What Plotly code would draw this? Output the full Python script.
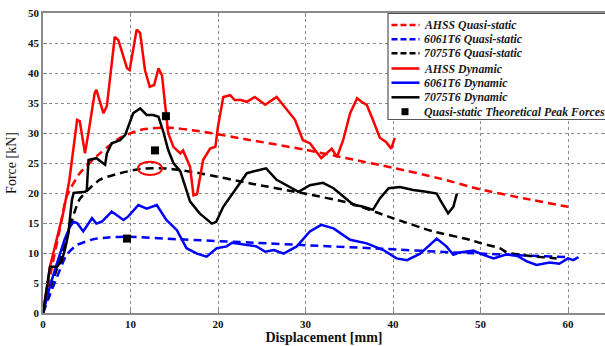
import plotly.graph_objects as go

# ---- quasi-static curves (force in kN vs displacement in mm) ----
ahss_qs_x = [0, 1, 2, 2.7, 4.2, 6.5, 8.8, 11.1, 14.1, 17.9, 23, 30, 35, 40, 45.4, 50, 55, 60]
ahss_qs_y = [0, 7.5, 14.5, 19.4, 23.3, 26.6, 29.2, 30.5, 30.9, 30.3, 29.0, 27.2, 25.7, 24.2, 22.4, 20.6, 19.1, 17.7]

al6061_qs_x = [0, 1, 1.6, 2.7, 3.85, 5.75, 7.5, 9.75, 15.3, 24.4, 30, 38.9, 45.4, 50, 55, 60]
al6061_qs_y = [0, 3.8, 6.0, 9.7, 11.3, 12.3, 12.6, 12.7, 12.3, 11.7, 11.3, 10.7, 10.2, 9.9, 9.6, 9.3]

al7075_qs_x = [0, 1, 2, 3, 4.2, 6.5, 8.8, 11.1, 14.1, 17.9, 23.7, 29.9, 35.1, 40, 44.6, 48.8, 50.1, 52.2, 53, 55.7, 58.7]
al7075_qs_y = [0, 4.8, 9.2, 14.0, 19.0, 22.2, 23.3, 24.0, 24.1, 23.3, 21.6, 19.9, 18.3, 15.8, 13.6, 12.2, 11.6, 10.8, 10.1, 9.5, 9.1]

# ---- dynamic curves ----
ahss_dyn_x = [0, 0.8, 1.6, 2.3, 3.0, 3.65, 3.9, 4.2, 4.8, 5.3, 5.9, 6.1, 6.9, 7.3, 8.2, 8.6, 9.6, 9.9, 10.7, 11.1, 11.65, 12.2, 12.7,
              13.2, 13.6, 13.9, 14.3, 14.9, 15.7, 16.0, 16.8, 17.2, 17.6, 18.3, 19.1, 19.7, 20.0, 20.6, 21.4, 21.9, 22.6, 23.3,
              24.2, 25.4, 26.7, 28.2, 28.8, 29.7, 30.5, 31.8, 33.0, 33.6, 34.3, 35.1, 35.9, 36.4, 37.0, 37.7, 38.5, 39.2,
              39.8, 40.2]
ahss_dyn_y = [0, 7.7, 12.5, 16.6, 22.0, 30.0, 32.2, 32.0, 26.6, 31.0, 36.6, 37.2, 33.3, 34.5, 46.0, 45.5, 40.8, 40.5, 47.2, 46.7,
              40.5, 37.7, 38.0, 40.8, 39.6, 35.5, 30.0, 27.7, 26.6, 27.1, 24.4, 19.6, 19.8, 25.5, 27.4, 27.7, 31.1, 36.0, 36.3,
              35.5, 35.5, 35.2, 36.0, 34.7, 36.0, 33.3, 32.2, 28.8, 28.3, 25.8, 27.4, 26.0, 28.8, 33.3, 35.8, 35.2, 34.7, 32.2,
              29.2, 28.5, 27.4, 29.2]

al6061_dyn_x = [0, 0.8, 1.6, 2.5, 3.1, 3.5, 3.9, 4.6, 5.6, 6.1, 6.7, 7.85, 9.2, 9.75, 10.9, 11.85, 13.0, 14.1, 15.3, 16.4, 17.6,
                18.7, 19.85, 21.0, 21.6, 23.3, 24.4, 25.4, 26.4, 27.5, 29.0, 30.5, 31.8, 33.2, 35.1, 37.0, 38.9, 40.4, 41.6,
                43.1, 45.0, 46.1, 46.9, 47.6, 49.2, 50.1, 51.5, 53.0, 54.2, 55.3, 56.4, 57.9, 59.0, 60.0, 60.6, 61.2]
al6061_dyn_y = [0, 4.5, 8.3, 12.4, 14.4, 15.2, 15.0, 13.6, 15.8, 14.9, 15.2, 16.9, 15.5, 16.1, 18.0, 17.4, 18.0, 15.5, 13.8, 10.8,
                9.9, 9.4, 10.8, 11.1, 11.7, 11.3, 11.1, 10.2, 10.5, 9.9, 11.1, 13.6, 14.7, 14.1, 12.2, 11.6, 10.5, 9.1, 8.8,
                9.9, 12.4, 11.1, 9.7, 10.1, 10.4, 9.8, 9.1, 9.8, 9.5, 8.6, 8.0, 8.4, 8.2, 9.1, 8.8, 9.3]

al7075_dyn_x = [0, 0.8, 1.6, 2.1, 2.5, 2.9, 3.3, 3.5, 4.8, 5.0, 5.2, 6.1, 7.1, 7.3, 7.85, 8.8, 9.4, 9.75, 10.3, 11.1, 11.85,
                12.6, 13.2, 13.75, 14.3, 14.9, 15.7, 16.8, 17.9, 19.3, 19.8, 20.6, 22.3, 23.3, 24.6, 25.5, 26.7, 27.8, 29.2,
                30.5, 32.0, 33.2, 34.3, 35.5, 36.4, 37.7, 38.5, 39.5, 40.8, 42.3, 43.8, 45.0, 45.4, 46.3, 46.9, 47.3]
al7075_dyn_y = [0, 7.7, 7.7, 8.6, 10.5, 13.3, 18.8, 20.0, 20.2, 20.4, 25.5, 25.8, 24.7, 26.6, 28.3, 28.8, 29.7, 31.1, 33.3, 34.1,
                33.0, 33.0, 32.7, 30.2, 27.2, 25.0, 23.6, 18.6, 16.6, 14.9, 15.2, 17.7, 21.3, 23.3, 23.8, 24.1, 22.2, 21.3, 20.2,
                21.3, 21.7, 20.8, 19.4, 18.0, 17.8, 17.2, 19.1, 20.8, 21.0, 20.5, 20.2, 19.9, 18.8, 16.6, 17.7, 19.9]

# theoretical quasi-static peak forces
peak_x = [9.6, 12.8, 14.05]
peak_y = [12.4, 27.1, 32.8]

legend_labels = [
    "AHSS Quasi-static",
    "6061T6 Quasi-static",
    "7075T6 Quasi-static",
    "AHSS Dynamic",
    "6061T6 Dynamic",
    "7075T6 Dynamic",
    "Quasi-static Theoretical Peak Forces",
]

x_ticks = [0, 10, 20, 30, 40, 50, 60]
y_ticks = [0, 5, 10, 15, 20, 25, 30, 35, 40, 45, 50]

RED, BLUE, BLACK = "#ff0000", "#0000ff", "#000000"
SERIF = "Liberation Serif, Times New Roman, serif"
LW = 2.5
DASH = "8px,5px"

series = [
    (ahss_qs_x, ahss_qs_y, RED, DASH, "spline"),
    (al6061_qs_x, al6061_qs_y, BLUE, DASH, "spline"),
    (al7075_qs_x, al7075_qs_y, BLACK, DASH, "spline"),
    (ahss_dyn_x, ahss_dyn_y, RED, "solid", "linear"),
    (al6061_dyn_x, al6061_dyn_y, BLUE, "solid", "linear"),
    (al7075_dyn_x, al7075_dyn_y, BLACK, "solid", "linear"),
]

fig = go.Figure()
for (xs, ys, col, dash, shape), name in zip(series, legend_labels):
    fig.add_trace(go.Scatter(x=xs, y=ys, mode="lines", name=name, showlegend=False,
                             line=dict(color=col, width=LW, dash=dash, shape=shape, smoothing=0.6)))

fig.add_trace(go.Scatter(x=peak_x, y=peak_y, mode="markers", name=legend_labels[-1], showlegend=False,
                         marker=dict(symbol="square", size=8, color=BLACK)))

# plot area geometry in pixels
W, H = 605, 346
ML, MT, MB, MR = 43, 13, 33, 0
PW, PH = W - ML - MR, H - MT - MB


def fx(px):
    return (px - ML) / PW


def fy(py):
    return (MT + PH - py) / PH


shapes = []
# highlighted 7075T6 quasi-static peak
shapes.append(dict(type="circle", xref="x", yref="y", x0=10.85, x1=13.6, y0=23.0, y1=25.2,
                   line=dict(color=RED, width=2)))

# legend box
shapes.append(dict(type="rect", xref="paper", yref="paper", x0=fx(388), x1=fx(620), y0=fy(119.5), y1=fy(13.5),
                   fillcolor="white", line=dict(color="#555555", width=1.2), layer="above"))

entry_y = [25, 39.3, 53.3, 68.5, 82.7, 97.3, 111.7]
entry_style = [(RED, "dash"), (BLUE, "dash"), (BLACK, "dash"), (RED, "solid"), (BLUE, "solid"), (BLACK, "solid")]
annotations = []
for i, label in enumerate(legend_labels):
    yy = fy(entry_y[i])
    if i < len(entry_style):
        col, dsh = entry_style[i]
        shapes.append(dict(type="line", xref="paper", yref="paper", x0=fx(391.5), x1=fx(419.5), y0=yy, y1=yy,
                           line=dict(color=col, width=LW, dash="6px,3px" if dsh == "dash" else "solid"),
                           layer="above"))
    else:
        shapes.append(dict(type="rect", xref="paper", yref="paper", x0=fx(401.5), x1=fx(408.5),
                           y0=fy(entry_y[i] + 3.5), y1=fy(entry_y[i] - 3.5),
                           fillcolor=BLACK, line=dict(width=0), layer="above"))
    annotations.append(dict(xref="paper", yref="paper", x=fx(421.5), y=yy, xanchor="left", yanchor="middle",
                            text=f"<b><i>{label}</i></b>", showarrow=False,
                            font=dict(family=SERIF, size=11.8, color="#1a1a1a")))

axis_common = dict(showgrid=True, gridcolor="#8c8c8c", griddash="dot", gridwidth=1,
                   showline=True, linecolor="#8a8a8a", linewidth=1.5, mirror="ticks",
                   ticks="inside", ticklen=4, tickcolor="#8a8a8a",
                   tickfont=dict(family=SERIF, size=11, color="#111111"),
                   zeroline=False, automargin=False)

fig.update_layout(
    width=W, height=H,
    margin=dict(l=ML, r=MR, t=MT, b=MB),
    paper_bgcolor="white", plot_bgcolor="white",
    showlegend=False,
    shapes=shapes,
    annotations=annotations,
    xaxis=dict(range=[0, PW / 8.75], tickvals=x_ticks,
               ticktext=[f"<b>{v}</b>" for v in x_ticks],
               title=dict(text="<b>Displacement [mm]</b>", standoff=0,
                          font=dict(family=SERIF, size=14, color="#111111")),
               **axis_common),
    yaxis=dict(range=[0, 50], tickvals=y_ticks,
               ticktext=[f"<b>{v}</b>" for v in y_ticks],
               title=dict(text="Force [kN]", standoff=8,
                          font=dict(family=SERIF, size=14, color="#111111")),
               **axis_common),
)

fig.write_html("out.html")
